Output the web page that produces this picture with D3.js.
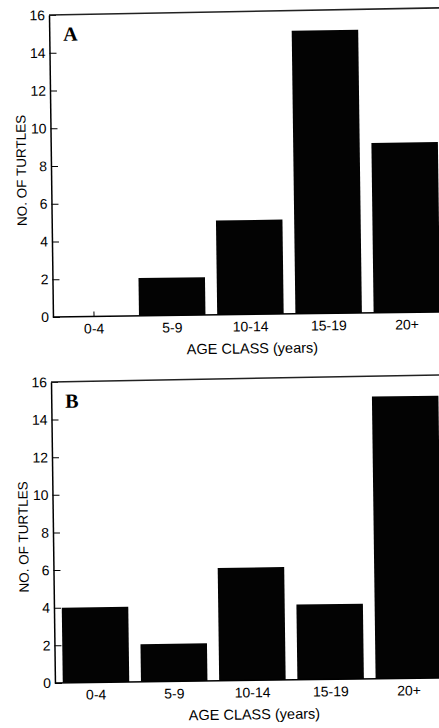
<!DOCTYPE html>
<html>
<head>
<meta charset="utf-8">
<script src="https://cdn.jsdelivr.net/npm/d3@7"></script>
<style>
  body { margin: 0; background: #fff; }
  svg { display: block; }
</style>
</head>
<body>
<svg width="439" height="728"></svg>
<script>
var ageClasses = ["0-4", "5-9", "10-14", "15-19", "20+"];
var turtlesA = [0, 2, 5, 15, 9];
var turtlesB = [4, 2, 6, 4, 15];
var yTicks = [0, 2, 4, 6, 8, 10, 12, 14, 16];

var svg = d3.select("svg");
var plotWidth = 395;

function drawPanel(letter, values, left, top, plotHeight) {
    var g = svg.append("g")
        .attr("transform", "translate(" + left + "," + top + ") rotate(-0.75)");

    var x = d3.scaleBand()
        .domain(ageClasses)
        .range([0, plotWidth])
        .paddingInner(0.15)
        .paddingOuter(0.1);

    var y = d3.scaleLinear()
        .domain([0, 16])
        .range([plotHeight, 0]);

    // little ticks on the baseline, hidden by the bars
    g.selectAll(".xtick")
        .data(ageClasses)
        .enter().append("line")
        .attr("x1", function (d) { return x(d) + x.bandwidth() / 2; })
        .attr("x2", function (d) { return x(d) + x.bandwidth() / 2; })
        .attr("y1", plotHeight)
        .attr("y2", plotHeight - 5)
        .attr("stroke", "#000")
        .attr("stroke-width", 1);

    // bars
    g.selectAll(".bar")
        .data(values)
        .enter().append("rect")
        .attr("x", function (d, i) { return x(ageClasses[i]); })
        .attr("y", function (d) { return y(d); })
        .attr("width", x.bandwidth())
        .attr("height", function (d) { return plotHeight - y(d); })
        .attr("fill", "#030303");

    // y axis with inward ticks
    var yAxis = d3.axisLeft(y)
        .tickValues(yTicks)
        .tickSizeInner(-7)
        .tickSizeOuter(0)
        .tickPadding(4);

    var ya = g.append("g").call(yAxis);
    ya.select(".domain").attr("stroke-width", 1.5);
    ya.selectAll(".tick line").attr("stroke-width", 1);
    ya.selectAll("text")
        .attr("font-family", "'Liberation Sans', Arial, sans-serif")
        .attr("font-size", 14)
        .attr("fill", "#000");

    // baseline
    g.append("line")
        .attr("x1", 0).attr("x2", plotWidth)
        .attr("y1", plotHeight).attr("y2", plotHeight)
        .attr("stroke", "#000").attr("stroke-width", 1.5);

    // top frame line
    g.append("line")
        .attr("x1", 0).attr("x2", plotWidth)
        .attr("y1", 0).attr("y2", -2)
        .attr("stroke", "#222").attr("stroke-width", 1.6);

    // x tick labels
    g.selectAll(".xlabel")
        .data(ageClasses)
        .enter().append("text")
        .attr("x", function (d) { return x(d) + x.bandwidth() / 2; })
        .attr("y", plotHeight + 17)
        .attr("text-anchor", "middle")
        .attr("font-family", "'Liberation Sans', Arial, sans-serif")
        .attr("font-size", 14)
        .text(function (d) { return d; });

    // axis titles
    g.append("text")
        .attr("x", x.range()[0] + 199)
        .attr("y", plotHeight + 39)
        .attr("text-anchor", "middle")
        .attr("font-family", "'Liberation Sans', Arial, sans-serif")
        .attr("font-size", 14.5)
        .text("AGE CLASS (years)");

    g.append("text")
        .attr("transform", "translate(-25," + (plotHeight / 2 + 4) + ") rotate(-90)")
        .attr("text-anchor", "middle")
        .attr("font-family", "'Liberation Sans', Arial, sans-serif")
        .attr("font-size", 13.5)
        .text("NO. OF TURTLES");

    // panel letter
    g.append("text")
        .attr("x", 14)
        .attr("y", 26)
        .attr("font-family", "'Liberation Serif', 'Times New Roman', serif")
        .attr("font-weight", "bold")
        .attr("font-size", 20)
        .text(letter);
}

drawPanel("A", turtlesA, 49, 15, 302);
drawPanel("B", turtlesB, 51, 382, 301);
</script>
</body>
</html>
